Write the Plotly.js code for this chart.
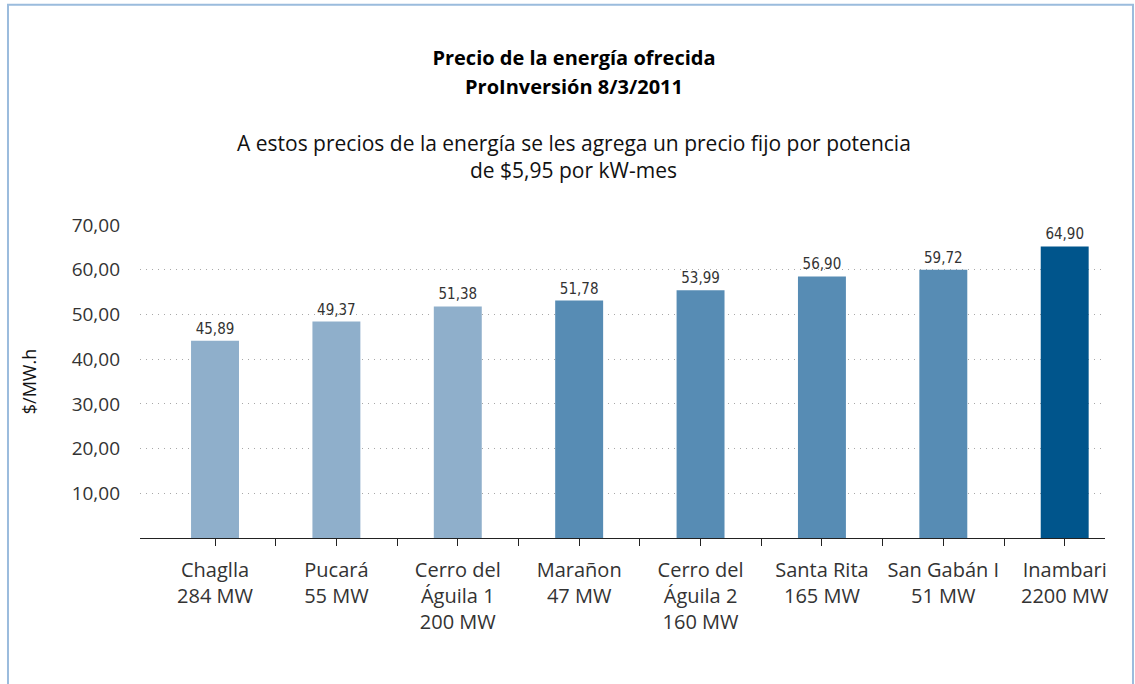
<!DOCTYPE html>
<html>
<head>
<meta charset="utf-8">
<script src="https://cdn.plot.ly/plotly-3.0.1.min.js"></script>
<style>
  html, body { margin: 0; padding: 0; background: #fff; }
  #chart { width: 1135px; height: 684px; }
</style>
</head>
<body>
<div id="chart"></div>
<script>
// ---- data ----
const plants = ["Chaglla", "Pucará", "Cerro del<br>Águila 1", "Marañon", "Cerro del<br>Águila 2", "Santa Rita", "San Gabán I", "Inambari"];
const capacities = ["284 MW", "55 MW", "200 MW", "47 MW", "160 MW", "165 MW", "51 MW", "2200 MW"];
// bar heights as drawn in the picture
const barHeights = [44.1, 48.4, 51.8, 53.1, 55.4, 58.5, 60.0, 65.2];
// value labels printed above the bars
const priceLabels = ["45,89", "49,37", "51,38", "51,78", "53,99", "56,90", "59,72", "64,90"];
const yTicks = [10, 20, 30, 40, 50, 60, 70];

const titleLines = ["Precio de la energía ofrecida", "ProInversión 8/3/2011"];
const subtitleLines = ["A estos precios de la energía se les agrega un precio fijo por potencia", "de $5,95 por kW-mes"];
const yTitle = "$/MW.h";

// ---- styles ----
const barColors = ["#8FAFCB", "#8FAFCB", "#8FAFCB", "#578CB4", "#578CB4", "#578CB4", "#578CB4", "#00558C"];
const font = "'Open Sans', 'Noto Sans', sans-serif";
const narrow = "'Liberation Sans Narrow', 'DejaVu Sans Condensed', 'Arial Narrow', sans-serif";

const xIdx = plants.map((_, i) => i);
const tickVals = [];
const tickText = [];
plants.forEach((p, i) => {
  tickVals.push(i);
  tickText.push(p + "<br>" + capacities[i]);
  if (i < plants.length - 1) { tickVals.push(i + 0.5); tickText.push(""); }
});

const trace = {
  type: "bar",
  x: xIdx,
  y: barHeights,
  width: 0.395,
  marker: { color: barColors, line: { width: 0 } },
  text: priceLabels,
  texttemplate: "%{text}",
  textposition: "outside",
  cliponaxis: false,
  textfont: { family: narrow, size: 15, color: "#333333" },
  hoverinfo: "skip"
};

const layout = {
  width: 1135,
  height: 684,
  margin: { l: 140, r: 30, t: 225, b: 146, autoexpand: false },
  paper_bgcolor: "#ffffff",
  plot_bgcolor: "#ffffff",
  separators: ",.",
  showlegend: false,
  title: {
    text: titleLines[0],
    font: { family: font, size: 20, color: "#000000", weight: "bold" },
    x: 0.5057, xanchor: "center", xref: "container",
    y: 1 - 58 / 684, yanchor: "middle", yref: "container"
  },
  xaxis: {
    type: "linear",
    range: [-0.618, 7.332],
    tickmode: "array",
    tickvals: tickVals,
    ticktext: tickText,
    ticks: "outside",
    ticklen: 7,
    tickwidth: 1,
    tickcolor: "#222222",
    showline: true,
    linecolor: "#222222",
    linewidth: 1.2,
    showgrid: false,
    zeroline: false,
    tickfont: { family: font, size: 20, color: "#333333" },
    ticklabelstandoff: 7,
    fixedrange: true
  },
  yaxis: {
    range: [0, 70],
    tickmode: "array",
    tickvals: yTicks,
    tickformat: ".2f",
    ticks: "",
    showline: false,
    zeroline: false,
    showgrid: true,
    gridcolor: "#A8A8A8",
    gridwidth: 1,
    griddash: "1px,5px",
    tickfont: { family: font, size: 19, color: "#333333" },
    ticklabelstandoff: 19,
    title: { text: yTitle, font: { family: font, size: 18, color: "#111111" }, standoff: 30 },
    fixedrange: true
  },
  annotations: [
    { text: "<b>" + titleLines[1] + "</b>", xref: "paper", yref: "paper", x: 0.4497, y: 1.441, xanchor: "center", yanchor: "middle", showarrow: false, font: { family: font, size: 20, color: "#000000" } },
    { text: subtitleLines[0], xref: "paper", yref: "paper", x: 0.4497, y: 1.2617, xanchor: "center", yanchor: "middle", showarrow: false, font: { family: font, size: 21, color: "#111111" } },
    { text: subtitleLines[1], xref: "paper", yref: "paper", x: 0.4497, y: 1.1754, xanchor: "center", yanchor: "middle", showarrow: false, font: { family: font, size: 21, color: "#111111" } }
  ],
  shapes: [
    { type: "path", xref: "paper", yref: "paper",
      path: "M -0.1368 -0.5 L -0.1368 1.7033 L 1.0290 1.7033 L 1.0290 -0.5",
      line: { color: "#9BBCDD", width: 2 }, layer: "above" }
  ]
};

Plotly.newPlot("chart", [trace], layout, { staticPlot: true, displayModeBar: false });
</script>
</body>
</html>
